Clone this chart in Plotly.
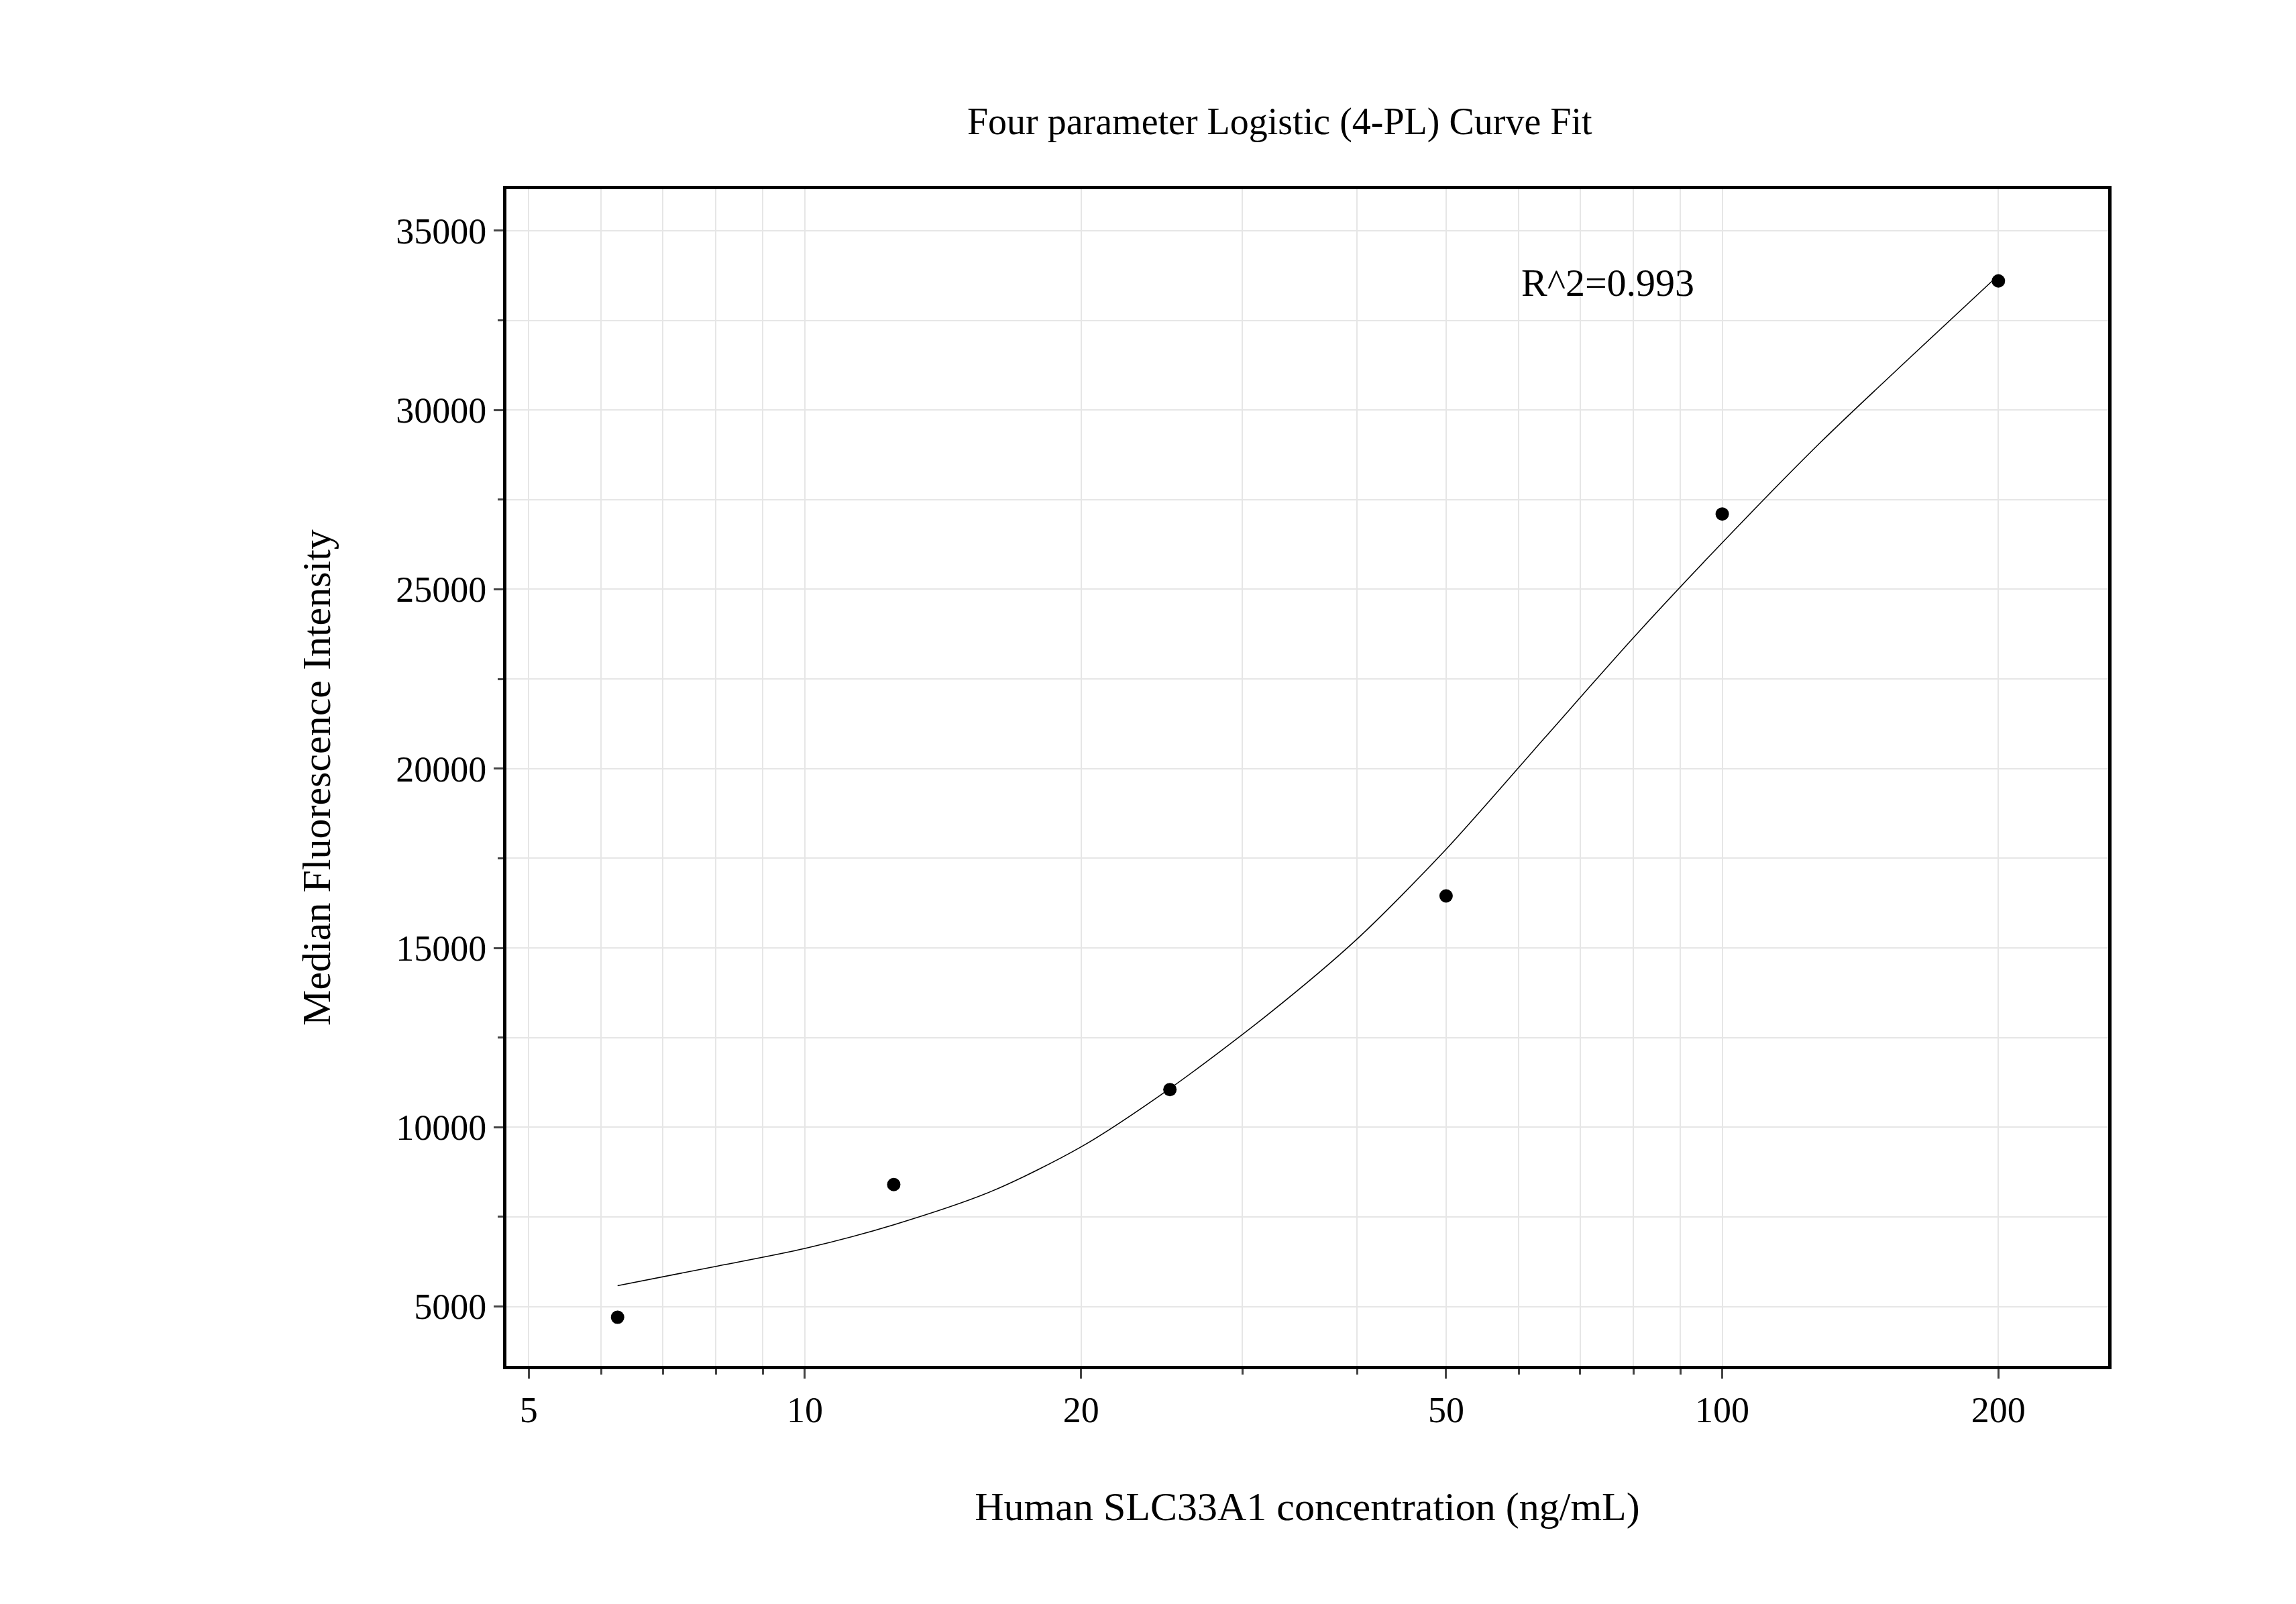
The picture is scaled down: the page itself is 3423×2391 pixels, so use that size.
import plotly.graph_objects as go

conc = [6.25, 12.5, 25, 50, 100, 200]
mfi = [4700, 8400, 11050, 16450, 27100, 33600]

curve_x = [6.25, 8, 10, 12.5, 16, 20, 25, 32, 40, 50, 64, 80, 100, 128, 160, 200]
curve_y = [5580, 6120, 6620, 7280, 8220, 9450, 11080, 13150, 15250, 17750, 20850, 23650, 26300, 29100, 31450, 33760]

x_major = [5, 10, 20, 50, 100, 200]
x_minor = [6, 7, 8, 9, 30, 40, 60, 70, 80, 90]
y_major = [5000, 10000, 15000, 20000, 25000, 30000, 35000]

font = "Liberation Serif"
fig = go.Figure()
fig.add_trace(go.Scatter(x=curve_x, y=curve_y, mode="lines", line=dict(color="black", width=1.5, shape="spline", smoothing=0.8), showlegend=False))
fig.add_trace(go.Scatter(x=conc, y=mfi, mode="markers", marker=dict(color="black", size=20), showlegend=False))

fig.update_layout(
    width=3423, height=2391, plot_bgcolor="white", paper_bgcolor="white",
    margin=dict(l=747, r=288, t=274, b=363),
    font=dict(family=font, size=54, color="black"),
    title=dict(text="Four parameter Logistic (4-PL) Curve Fit", x=0.555, xanchor="center", y=0.936, font=dict(size=56)),
    annotations=[dict(x=1.875, y=33552, xref="x", yref="y", text="R^2=0.993", showarrow=False, font=dict(size=58))],
)
fig.update_xaxes(
    type="log", range=[0.6747, 2.4207], tickvals=x_major, ticktext=[str(v) for v in x_major],
    ticks="outside", ticklen=14, tickwidth=3, showline=True, linewidth=5, linecolor="black", mirror=True,
    showgrid=True, gridcolor="#e6e6e6", gridwidth=2,
    minor=dict(tickvals=x_minor, ticks="outside", ticklen=8, tickwidth=3, showgrid=True, gridcolor="#e6e6e6", gridwidth=2),
    title=dict(text="Human SLC33A1 concentration (ng/mL)", font=dict(size=60), standoff=95),
)
fig.update_yaxes(
    range=[3345, 36159], tickvals=y_major, ticktext=[str(v) for v in y_major],
    ticks="outside", ticklen=14, tickwidth=3, showline=True, linewidth=5, linecolor="black", mirror=True,
    showgrid=True, gridcolor="#e6e6e6", gridwidth=2, zeroline=False,
    minor=dict(dtick=2500, tick0=0, ticks="outside", ticklen=8, tickwidth=3, showgrid=True, gridcolor="#e6e6e6", gridwidth=2),
    title=dict(text="Median Fluorescence Intensity", font=dict(size=60), standoff=80),
)
fig.write_html("out.html")
